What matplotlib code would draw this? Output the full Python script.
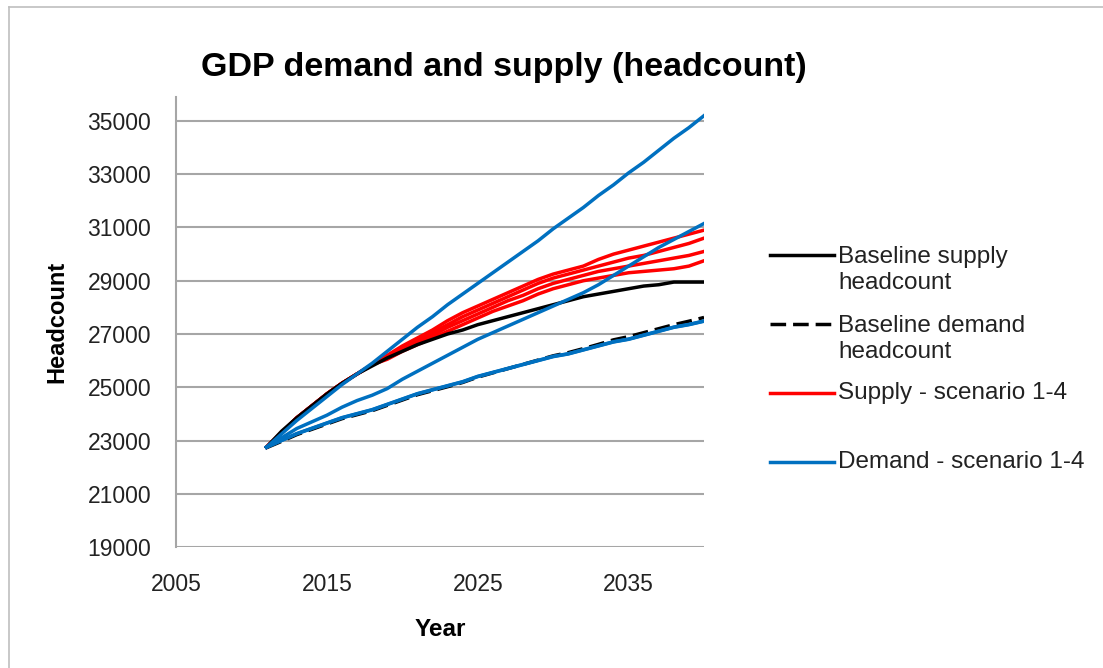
import matplotlib
matplotlib.use("Agg")
import matplotlib.pyplot as plt
from matplotlib.lines import Line2D

plt.rcParams['font.family'] = ['Liberation Sans', 'DejaVu Sans']

years = list(range(2011, 2041))

baseline_supply = [22750, 23350, 23850, 24300, 24750, 25150, 25500, 25800, 26100, 26350,
                   26600, 26800, 27000, 27150, 27350, 27500, 27650, 27800, 27950, 28100,
                   28250, 28400, 28500, 28600, 28700, 28800, 28850, 28950, 28950, 28950]
baseline_demand = [22730, 22970, 23220, 23420, 23620, 23820, 23970, 24120, 24320, 24520,
                   24720, 24870, 25020, 25180, 25380, 25540, 25700, 25860, 26020, 26180,
                   26300, 26450, 26610, 26780, 26900, 27050, 27200, 27350, 27480, 27620]

supply_s1 = [22750, 23300, 23850, 24300, 24750, 25150, 25500, 25850, 26050, 26350,
             26600, 26850, 27100, 27350, 27600, 27850, 28050, 28250, 28500, 28700,
             28850, 29000, 29100, 29200, 29300, 29350, 29400, 29450, 29550, 29750]
supply_s2 = [22750, 23300, 23850, 24300, 24750, 25150, 25500, 25850, 26100, 26400,
             26650, 26950, 27250, 27500, 27750, 28000, 28250, 28450, 28700, 28900,
             29050, 29200, 29350, 29450, 29550, 29650, 29750, 29850, 29950, 30100]
supply_s3 = [22750, 23300, 23850, 24300, 24750, 25150, 25500, 25850, 26150, 26450,
             26750, 27050, 27350, 27650, 27900, 28150, 28400, 28650, 28900, 29100,
             29250, 29400, 29550, 29700, 29850, 29950, 30100, 30250, 30400, 30600]
supply_s4 = [22750, 23300, 23850, 24300, 24750, 25150, 25500, 25850, 26200, 26550,
             26850, 27150, 27500, 27800, 28050, 28300, 28550, 28800, 29050, 29250,
             29400, 29550, 29800, 30000, 30150, 30300, 30450, 30600, 30750, 30900]

demand_s1 = [22750, 23000, 23250, 23450, 23650, 23850, 24000, 24150, 24350, 24550,
             24750, 24900, 25050, 25200, 25400, 25550, 25700, 25850, 26000, 26150,
             26250, 26400, 26550, 26700, 26800, 26950, 27100, 27250, 27350, 27480]
demand_s2 = [22750, 23010, 23260, 23460, 23660, 23860, 24010, 24160, 24360, 24560,
             24760, 24910, 25060, 25210, 25410, 25560, 25710, 25860, 26010, 26160,
             26260, 26410, 26560, 26710, 26810, 26960, 27110, 27260, 27360, 27490]
demand_s3 = [22750, 23100, 23450, 23700, 23950, 24250, 24500, 24700, 24950, 25300,
             25600, 25900, 26200, 26500, 26800, 27050, 27300, 27550, 27800, 28050,
             28300, 28550, 28850, 29200, 29550, 29900, 30250, 30550, 30850, 31150]
demand_s4 = [22750, 23250, 23750, 24200, 24650, 25100, 25500, 25900, 26350, 26800,
             27250, 27650, 28100, 28500, 28900, 29300, 29700, 30100, 30500, 30950,
             31350, 31750, 32200, 32600, 33050, 33450, 33900, 34350, 34750, 35200]

y_ticks = [19000, 21000, 23000, 25000, 27000, 29000, 31000, 33000, 35000]
x_ticks = [2005, 2015, 2025, 2035]

RED = '#ff0000'
BLUE = '#0070c0'
DASH = (0, (4.5, 2))
LW = 2.5

fig = plt.figure(figsize=(11.03, 6.68), dpi=100)
ax = fig.add_axes([0.1596, 0.1811, 0.4787, 0.6737])

for s in [supply_s1, supply_s2, supply_s3, supply_s4]:
    ax.plot(years, s, color=RED, lw=LW, zorder=2)
ax.plot(years, baseline_supply, color='black', lw=LW, zorder=3)
ax.plot(years, baseline_demand, color='black', lw=LW, ls=DASH, zorder=3)
for s in [demand_s1, demand_s2, demand_s3, demand_s4]:
    ax.plot(years, s, color=BLUE, lw=LW, zorder=4)

ax.set_xlim(2005, 2040)
ax.set_ylim(19000, 35900)
ax.set_xticks(x_ticks)
ax.set_yticks(y_ticks)
ax.tick_params(axis='both', length=0, labelsize=16.5, colors='#222222')
ax.tick_params(axis='x', pad=19)
ax.tick_params(axis='y', pad=18)
ax.grid(axis='y', color='#a6a6a6', lw=1.5)
ax.set_axisbelow(True)
for side in ['top', 'right', 'bottom']:
    ax.spines[side].set_visible(False)
ax.spines['left'].set_color('#a6a6a6')
ax.spines['left'].set_linewidth(1.5)

fig.text(0.457, 0.899, 'GDP demand and supply (headcount)', ha='center', va='center',
         fontsize=24.5, fontweight='bold')
fig.text(0.052, 0.518, 'Headcount', rotation=90, ha='center', va='center',
         fontsize=17, fontweight='bold')
fig.text(0.399, 0.057, 'Year', ha='center', va='center', fontsize=17.5, fontweight='bold')

# legend drawn by hand (uneven spacing in the original)
legend_items = [
    ('Baseline supply\nheadcount', 'black', '-', 255),
    ('Baseline demand\nheadcount', 'black', DASH, 324),
    ('Supply - scenario 1-4', RED, '-', 393),
    ('Demand - scenario 1-4', BLUE, '-', 462),
]
W, H = 1103, 668
for label, col, ls, ypx in legend_items:
    yf = 1 - ypx / H
    fig.add_artist(Line2D([770 / W, 834 / W], [yf, yf], color=col, lw=LW, ls=ls,
                          transform=fig.transFigure))
    ty = 1 - (ypx + 15) / H if '\n' in label else yf
    fig.text(838 / W, ty, label, ha='left', va='center',
             fontsize=17.5, color='#222222', linespacing=1.25,
             transform=fig.transFigure)

# outer chart frame
fig.add_artist(Line2D([9 / W, 1.0], [1 - 7 / H, 1 - 7 / H], color='#bfbfbf', lw=1.2,
                      transform=fig.transFigure))
fig.add_artist(Line2D([9 / W, 9 / W], [0, 1 - 7 / H], color='#bfbfbf', lw=1.2,
                      transform=fig.transFigure))

fig.savefig('out.png', dpi=100)
